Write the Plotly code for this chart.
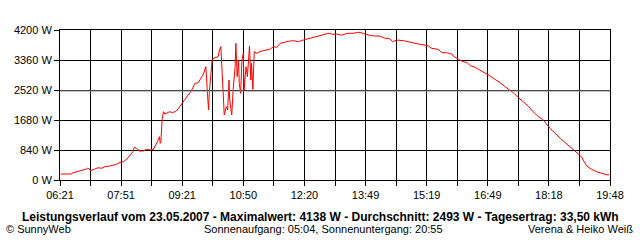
import plotly.graph_objects as go

times = ["06:22","06:38","06:39","06:43","06:48","06:53","07:00","07:02","07:06","07:12",
         "07:17","07:22","07:27","07:34","07:39","07:44","07:49","07:54","07:59","08:04",
         "08:08","08:10","08:13","08:18","08:23","08:28","08:33","08:38","08:42","08:44",
         "08:45","08:47","08:48","08:49","08:51","08:53","08:55","09:00","09:02","09:06",
         "09:11","09:15","09:20","09:24","09:29","09:33","09:39","09:44","09:46","09:49",
         "09:51","09:53","09:54","09:55","09:57","09:59","10:00","10:01","10:04","10:06",
         "10:11","10:13","10:15","10:17","10:18","10:20","10:22","10:25","10:27","10:29",
         "10:30","10:33","10:35","10:38","10:39","10:41","10:43","10:44","10:46","10:48",
         "10:50","10:51","10:54","10:56","10:59","11:01","11:02","11:04","11:05","11:06",
         "11:10","11:14","11:19","11:24","11:29","11:34","11:39","11:44","11:49","11:56",
         "12:03","12:11","12:18","12:23","12:28","12:33","12:38","12:42","12:50","12:55",
         "13:02","13:07","13:14","13:22","13:31","13:39","13:46","13:53","14:01","14:10",
         "14:18","14:24","14:29","14:35","14:45","14:52","14:59","15:09","15:21","15:26",
         "15:36","15:41","15:48","15:56","15:58","16:05","16:10","16:18","16:23","16:30",
         "16:37","16:45","16:52","16:59","17:07","17:14","17:20","17:26","17:33","17:41",
         "17:48","17:55","18:03","18:09","18:20","18:35","18:49","19:01","19:06","19:10",
         "19:14","19:21","19:28","19:36","19:43","19:45","19:47"]

watts = [168,168,196,215,233,261,308,336,261,308,
         345,327,373,392,420,439,495,513,579,681,
         793,915,887,812,812,859,840,859,980,1073,
         1120,1213,1027,1073,1727,1913,1848,1885,1913,1885,
         1923,2007,2147,2240,2380,2473,2707,2725,2800,2893,
         2940,3080,3127,3173,2520,1960,2427,2707,3313,3407,
         3453,3453,3640,3733,3360,2333,1820,2053,1960,2800,
         2240,1820,2520,3173,3827,2893,3360,2707,2427,3360,
         3547,2520,3173,2893,3752,2800,3267,2539,3173,3593,
         3547,3593,3620,3640,3659,3733,3715,3827,3855,3883,
         3901,3873,3920,3948,3967,3995,4013,4041,4079,4107,
         4079,4088,4051,4107,4107,4138,4107,4060,4032,4032,
         3967,3967,3873,3920,3901,3873,3827,3799,3761,3687,
         3659,3565,3565,3528,3472,3388,3332,3285,3201,3155,
         3080,2987,2912,2819,2725,2613,2539,2445,2315,2193,
         2072,1913,1773,1699,1447,1167,933,728,653,513,
         392,299,233,187,159,140,159]

x_tick_labels = ["06:21","07:51","09:21","10:50","12:20","13:49","15:19","16:49","18:18","19:48"]
y_tick_values = [0, 840, 1680, 2520, 3360, 4200]
y_tick_labels = ["0 W", "840 W", "1680 W", "2520 W", "3360 W", "4200 W"]
average_w = 2493

title_text = "Leistungsverlauf vom 23.05.2007 - Maximalwert: 4138 W - Durchschnitt: 2493 W - Tagesertrag: 33,50 kWh"
left_text = "© SunnyWeb"
mid_text = "Sonnenaufgang: 05:04, Sonnenuntergang: 20:55"
right_text = "Verena & Heiko Weiß"


def to_min(t):
    h, m = t.split(":")
    return int(h) * 60 + int(m)

xs = [to_min(t) for t in times]
x_start = to_min(x_tick_labels[0])
x_end = to_min(x_tick_labels[-1])
n_grid = 2 * (len(x_tick_labels) - 1)
step = (x_end - x_start) / n_grid
x_tickvals = [x_start + k * step for k in range(n_grid + 1)]
x_ticktext = [x_tick_labels[k // 2] if k % 2 == 0 else "" for k in range(n_grid + 1)]

FONT = "Arial, Liberation Sans, sans-serif"

fig = go.Figure()
fig.add_trace(go.Scatter(x=xs, y=watts, mode="lines",
                         line=dict(color="#ff0000", width=1), hoverinfo="skip"))

fig.add_shape(type="line", xref="x", yref="y", x0=x_start, x1=x_end,
              y0=average_w, y1=average_w, line=dict(color="#808080", width=1))

fig.update_layout(
    width=640, height=240,
    margin=dict(l=60, r=30, t=30, b=60, pad=0),
    paper_bgcolor="white", plot_bgcolor="white",
    showlegend=False,
    font=dict(family=FONT, color="black", size=11),
    xaxis=dict(range=[x_start, x_end], tickmode="array", tickvals=x_tickvals,
               ticktext=x_ticktext, showgrid=True, gridcolor="black", gridwidth=1,
               ticks="outside", ticklen=5, tickcolor="black", showline=True,
               linecolor="black", linewidth=1, mirror=True, zeroline=False,
               tickfont=dict(size=11, family=FONT, color="black")),
    yaxis=dict(range=[0, 4200], tickmode="array", tickvals=y_tick_values,
               ticktext=y_tick_labels, showgrid=True, gridcolor="black", gridwidth=1,
               ticks="outside", ticklen=5, tickcolor="black", showline=True,
               linecolor="black", linewidth=1, mirror=True, zeroline=False,
               tickfont=dict(size=11, family=FONT, color="black")),
)

def px_x(px):
    return (px - 60) / 550

def px_y(py):
    return (180 - py) / 150

fig.add_annotation(text="<b>" + title_text + "</b>", xref="paper", yref="paper",
                   x=px_x(320), y=px_y(216.5), xanchor="center", yanchor="middle",
                   showarrow=False, font=dict(size=12, family=FONT, color="black"))
fig.add_annotation(text=left_text, xref="paper", yref="paper",
                   x=px_x(4), y=px_y(228.5), xanchor="left", yanchor="middle",
                   showarrow=False, font=dict(size=11, family=FONT, color="black"))
fig.add_annotation(text=mid_text, xref="paper", yref="paper",
                   x=px_x(202), y=px_y(228.5), xanchor="left", yanchor="middle",
                   showarrow=False, font=dict(size=11, family=FONT, color="black"))
fig.add_annotation(text=right_text, xref="paper", yref="paper",
                   x=px_x(635), y=px_y(228.5), xanchor="right", yanchor="middle",
                   showarrow=False, font=dict(size=11, family=FONT, color="black"))

fig.write_html("out.html")
